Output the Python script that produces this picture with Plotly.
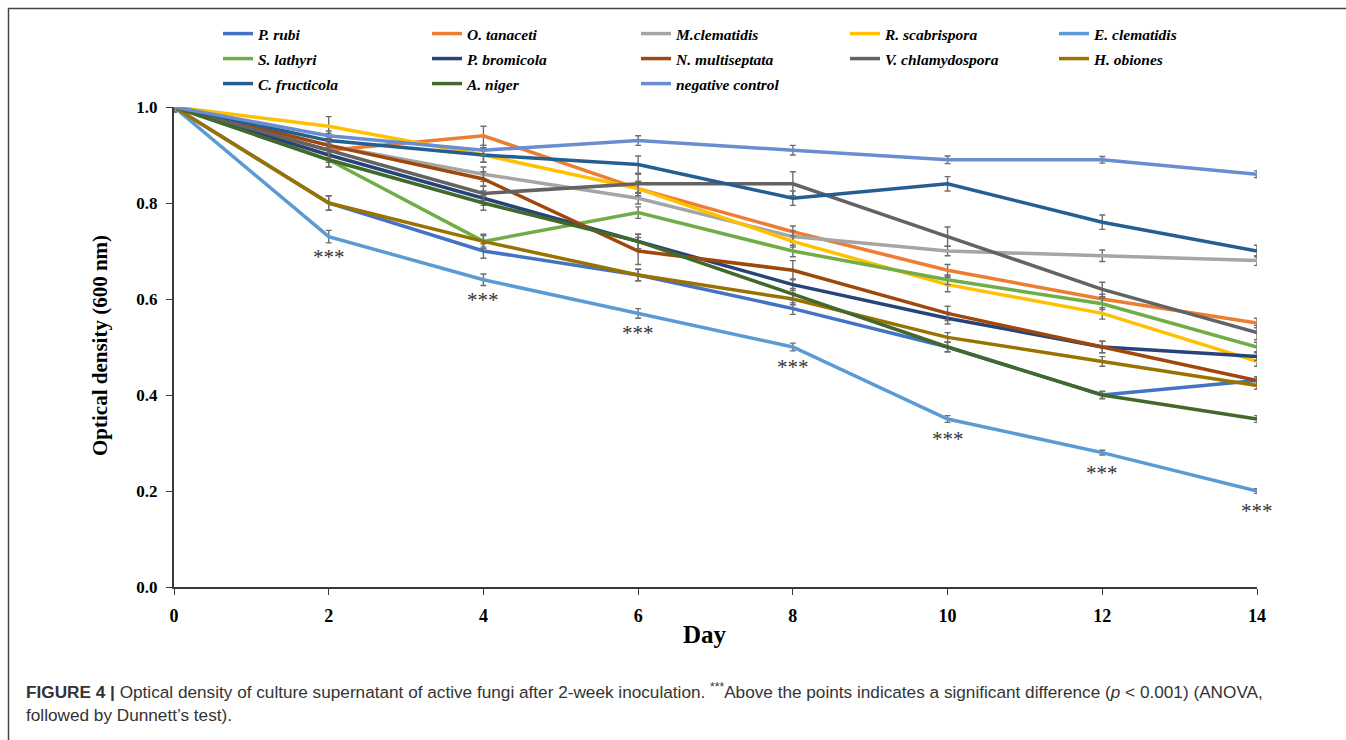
import plotly.graph_objects as go

# Sampling days
days = [0, 2, 4, 6, 8, 10, 12, 14]

# Mean optical density (600 nm) per strain
p_rubi = [1.00, 0.80, 0.70, 0.65, 0.58, 0.50, 0.40, 0.43]
o_tanaceti = [1.00, 0.91, 0.94, 0.83, 0.74, 0.66, 0.60, 0.55]
m_clematidis = [1.00, 0.92, 0.86, 0.81, 0.73, 0.70, 0.69, 0.68]
r_scabrispora = [1.00, 0.96, 0.90, 0.83, 0.72, 0.63, 0.57, 0.47]
e_clematidis = [1.00, 0.73, 0.64, 0.57, 0.50, 0.35, 0.28, 0.20]
s_lathyri = [1.00, 0.89, 0.72, 0.78, 0.70, 0.64, 0.59, 0.50]
p_bromicola = [1.00, 0.90, 0.81, 0.72, 0.63, 0.56, 0.50, 0.48]
n_multiseptata = [1.00, 0.92, 0.85, 0.70, 0.66, 0.57, 0.50, 0.43]
v_chlamydospora = [1.00, 0.91, 0.82, 0.84, 0.84, 0.73, 0.62, 0.53]
h_obiones = [1.00, 0.80, 0.72, 0.65, 0.60, 0.52, 0.47, 0.42]
c_fructicola = [1.00, 0.93, 0.90, 0.88, 0.81, 0.84, 0.76, 0.70]
a_niger = [1.00, 0.89, 0.80, 0.72, 0.61, 0.50, 0.40, 0.35]
negative_control = [1.00, 0.94, 0.91, 0.93, 0.91, 0.89, 0.89, 0.86]

# Standard deviations
err_p_rubi = [0.010, 0.015, 0.015, 0.012, 0.012, 0.010, 0.008, 0.008]
err_o_tanaceti = [0.010, 0.020, 0.020, 0.015, 0.012, 0.012, 0.010, 0.010]
err_m_clematidis = [0.010, 0.015, 0.015, 0.012, 0.012, 0.010, 0.012, 0.010]
err_r_scabrispora = [0.010, 0.020, 0.015, 0.015, 0.012, 0.015, 0.012, 0.010]
err_e_clematidis = [0.010, 0.013, 0.012, 0.010, 0.008, 0.007, 0.005, 0.005]
err_s_lathyri = [0.010, 0.015, 0.015, 0.012, 0.012, 0.010, 0.012, 0.010]
err_p_bromicola = [0.010, 0.015, 0.015, 0.015, 0.012, 0.012, 0.012, 0.008]
err_n_multiseptata = [0.010, 0.015, 0.015, 0.028, 0.020, 0.015, 0.012, 0.008]
err_v_chlamydospora = [0.010, 0.015, 0.015, 0.020, 0.025, 0.020, 0.015, 0.015]
err_h_obiones = [0.010, 0.015, 0.012, 0.012, 0.012, 0.010, 0.010, 0.008]
err_c_fructicola = [0.010, 0.015, 0.015, 0.018, 0.015, 0.015, 0.015, 0.012]
err_a_niger = [0.010, 0.015, 0.015, 0.015, 0.012, 0.010, 0.007, 0.007]
err_negative_control = [0.010, 0.010, 0.010, 0.010, 0.010, 0.008, 0.007, 0.007]

series_names = ["P. rubi", "O. tanaceti", "M.clematidis", "R. scabrispora", "E. clematidis",
                "S. lathyri", "P. bromicola", "N. multiseptata", "V. chlamydospora", "H. obiones",
                "C. fructicola", "A. niger", "negative control"]
series_values = [p_rubi, o_tanaceti, m_clematidis, r_scabrispora, e_clematidis,
                 s_lathyri, p_bromicola, n_multiseptata, v_chlamydospora, h_obiones,
                 c_fructicola, a_niger, negative_control]
series_errors = [err_p_rubi, err_o_tanaceti, err_m_clematidis, err_r_scabrispora, err_e_clematidis,
                 err_s_lathyri, err_p_bromicola, err_n_multiseptata, err_v_chlamydospora, err_h_obiones,
                 err_c_fructicola, err_a_niger, err_negative_control]
series_colors = ["#4472C4", "#ED7D31", "#A5A5A5", "#FFC000", "#5B9BD5",
                 "#70AD47", "#264478", "#9E480E", "#636363", "#997300",
                 "#255E91", "#43682B", "#698ED0"]

# Significance marks under E. clematidis
sig_days = days[1:]
sig_values = e_clematidis[1:]
sig_label = "***"

caption_line1 = ("<b>FIGURE 4 |</b> Optical density of culture supernatant of active fungi after "
                 "2-week inoculation. <sup>***</sup>Above the points indicates a significant difference "
                 "(<i>p</i> &lt; 0.001) (ANOVA,")
caption_line2 = "followed by Dunnett\u2019s test)."

SERIF = "Liberation Serif, Times New Roman, serif"
SANS = "Liberation Sans, Arial, sans-serif"

fig = go.Figure()
legend_ids = ["legend"] * 5 + ["legend2"] * 5 + ["legend3"] * 3
for name, vals, errs, col, lg in zip(series_names, series_values, series_errors,
                                     series_colors, legend_ids):
    fig.add_trace(go.Scatter(
        x=days, y=vals, name=name, mode="lines",
        line=dict(color=col, width=3.5),
        error_y=dict(type="data", array=errs, visible=True,
                     color="#6e6e6e", thickness=1.4, width=3),
        legend=lg, cliponaxis=False,
    ))

for d, v in zip(sig_days, sig_values):
    fig.add_annotation(x=d, y=v, text=sig_label, showarrow=False, yanchor="middle",
                       yshift=-20, font=dict(family=SERIF, size=21, color="#333333"))

W, H = 1346, 740
L, R, T, B = 174, 89, 107, 153
pw, ph = W - L - R, H - T - B


def px_x(p):
    return (p - L) / pw


def px_y(p):
    return (H - B - p) / ph


legend_font = dict(family=SERIF, size=15.5, color="#000000", weight="bold", style="italic")
leg_common = dict(orientation="h", xanchor="left", yanchor="middle",
                  entrywidth=164, entrywidthmode="pixels", font=legend_font,
                  bgcolor="rgba(0,0,0,0)", itemwidth=30, tracegroupgap=0)

fig.update_layout(
    width=W, height=H,
    margin=dict(l=L, r=R, t=T, b=B, autoexpand=False),
    paper_bgcolor="white", plot_bgcolor="white",
    showlegend=True,
    legend=dict(x=px_x(218), y=px_y(34), **leg_common),
    legend2=dict(x=px_x(218), y=px_y(59), **leg_common),
    legend3=dict(x=px_x(218), y=px_y(84), **leg_common),
    xaxis=dict(range=[0, 14], tickmode="array", tickvals=days, ticktext=[str(d) for d in days],
               showline=True, linecolor="#3a3a3a", linewidth=1.5, ticks="outside",
               ticklen=6, tickwidth=1.2, tickcolor="#3a3a3a", showgrid=False, zeroline=False,
               ticklabelstandoff=6,
               tickfont=dict(family=SERIF, size=18, color="#000000", weight="bold")),
    yaxis=dict(range=[0, 1.0], tickvals=[0, 0.2, 0.4, 0.6, 0.8, 1.0], tickformat=".1f",
               showline=True, linecolor="#3a3a3a", linewidth=2, ticks="outside",
               ticklen=6, tickwidth=1.2, tickcolor="#3a3a3a", showgrid=False, zeroline=False,
               ticklabelstandoff=5,
               tickfont=dict(family=SERIF, size=17, color="#000000", weight="bold")),
)

# Axis titles
fig.add_annotation(xref="paper", yref="paper", x=px_x(705), y=px_y(634), text="<b>Day</b>",
                   xanchor="center", yanchor="middle",
                   showarrow=False, font=dict(family=SERIF, size=25, color="#000000"))
fig.add_annotation(xref="paper", yref="paper", x=px_x(100), y=px_y(346),
                   text="<b>Optical density (600 nm)</b>", textangle=-90,
                   xanchor="center", yanchor="middle",
                   showarrow=False, font=dict(family=SERIF, size=21, color="#000000"))

# Caption
fig.add_annotation(xref="paper", yref="paper", x=px_x(24), y=px_y(691),
                   xanchor="left", yanchor="middle",
                   text=caption_line1, showarrow=False, align="left",
                   font=dict(family=SANS, size=17.2, color="#333333"))
fig.add_annotation(xref="paper", yref="paper", x=px_x(24), y=px_y(715),
                   xanchor="left", yanchor="middle",
                   text=caption_line2, showarrow=False, align="left",
                   font=dict(family=SANS, size=17.2, color="#333333"))

# Figure frame
fig.add_shape(type="rect", xref="paper", yref="paper",
              x0=px_x(8.5), x1=px_x(1360), y0=px_y(760), y1=px_y(8.5),
              line=dict(color="#454545", width=1.5), fillcolor="rgba(0,0,0,0)", layer="below")

fig.write_html("out.html")
